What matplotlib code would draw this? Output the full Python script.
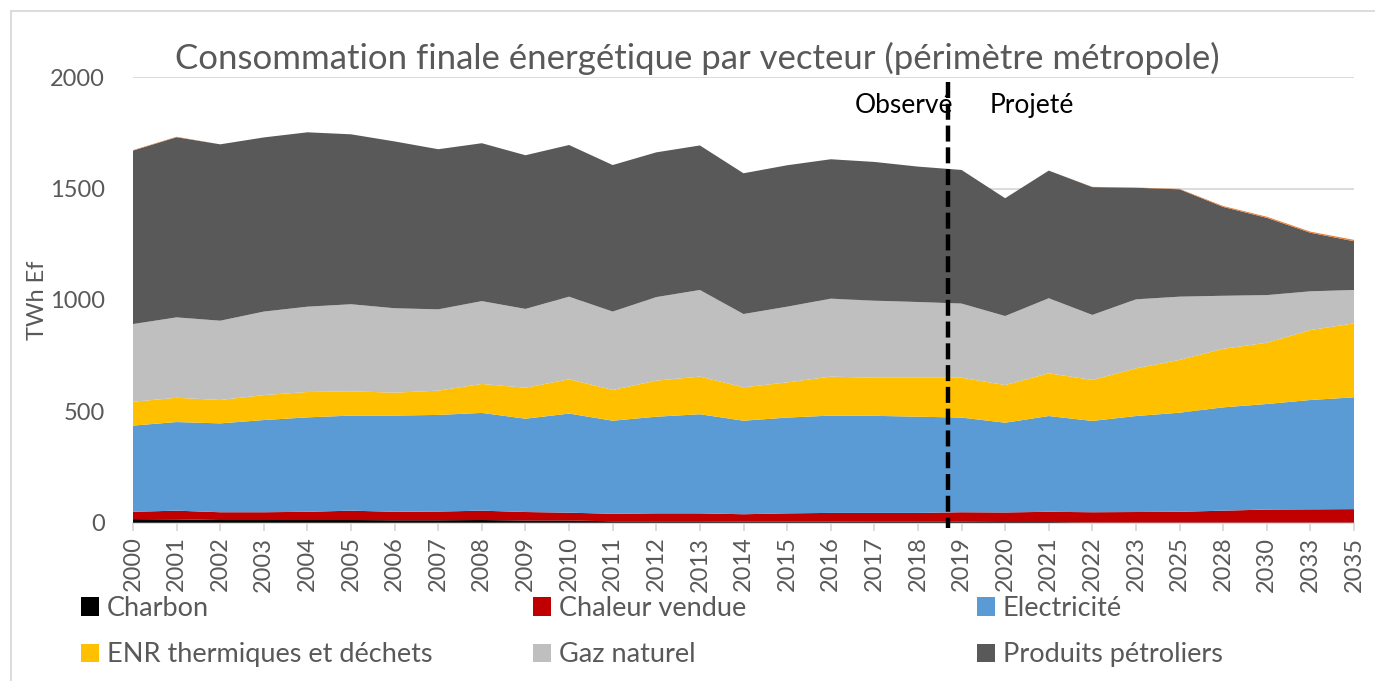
import matplotlib
matplotlib.use("Agg")
import matplotlib.pyplot as plt
from matplotlib.lines import Line2D
import numpy as np

plt.rcParams['font.family'] = ['Lato', 'DejaVu Sans']

years = ["2000", "2001", "2002", "2003", "2004", "2005", "2006", "2007", "2008", "2009",
         "2010", "2011", "2012", "2013", "2014", "2015", "2016", "2017", "2018", "2019",
         "2020", "2021", "2022", "2023", "2025", "2028", "2030", "2033", "2035"]

charbon = [16, 15, 12, 12, 12, 12, 11, 11, 12, 10, 10, 6, 6, 6, 5, 5, 5, 4, 4, 4,
           3, 3, 1, 1, 1, 1, 1, 1, 1]
chaleur = [33, 39, 35, 35, 37, 42, 38, 39, 42, 38, 35, 34, 36, 36, 33, 37, 39, 40, 40, 43,
           43, 46, 46, 47, 48, 53, 58, 59, 60]
electricite = [387, 398, 399, 414, 424, 427, 432, 434, 439, 419, 445, 418, 434, 445, 420, 430,
               437, 436, 432, 425, 403, 430, 410, 431, 445, 464, 474, 491, 502]
enr = [107, 109, 105, 112, 114, 109, 103, 109, 130, 139, 154, 138, 162, 169, 150, 158,
       175, 171, 175, 179, 169, 192, 184, 214, 237, 263, 275, 314, 332]
gaz = [349, 361, 356, 375, 383, 391, 379, 365, 372, 354, 371, 352, 375, 389, 329, 340,
       350, 346, 340, 333, 310, 337, 292, 310, 284, 238, 214, 174, 150]
petrole = [779, 809, 792, 782, 783, 763, 749, 719, 709, 690, 681, 658, 650, 649, 632, 635,
           626, 623, 608, 600, 529, 573, 574, 501, 482, 399, 347, 263, 219]
autres = [2, 2, 0, 0, 0, 0, 0, 0, 0, 0, 0, 0, 0, 0, 0, 0, 0, 0, 0, 0,
          0, 0, 1, 1, 2, 4, 5, 5, 6]

labels = ["Charbon", "Chaleur vendue", "Electricité", "ENR thermiques et déchets",
          "Gaz naturel", "Produits pétroliers"]
colors = ["#000000", "#C00000", "#5B9BD5", "#FFC000", "#BFBFBF", "#595959"]
autres_color = "#ED7D31"

title = "Consommation finale énergétique par vecteur (périmètre métropole)"
ylabel = "TWh Ef"
yticks = [0, 500, 1000, 1500, 2000]
separation = 18.7  # position of the observed / projected boundary on the category axis

W, H = 1375, 681
fig = plt.figure(figsize=(W / 100, H / 100), dpi=100)
ax = fig.add_axes([133 / W, 1 - 522.7 / H, (1354 - 133) / W, (522.7 - 77.3) / H])

x = np.arange(len(years))
polys = ax.stackplot(x, charbon, chaleur, electricite, enr, gaz, petrole, autres,
                     colors=colors + [autres_color], labels=labels + ["_autres"],
                     linewidth=0, zorder=2)

ax.set_xlim(0, len(years) - 1)
ax.set_ylim(0, 2000)
ax.set_yticks(yticks)
ax.set_yticklabels([str(v) for v in yticks])
ax.set_xticks(x)
ax.set_xticklabels(years, rotation=90)
ax.grid(axis='y', color='#D9D9D9', linewidth=1.3, zorder=0)
ax.set_axisbelow(True)
for s in ['top', 'right', 'left']:
    ax.spines[s].set_visible(False)
ax.spines['bottom'].set_color('#D9D9D9')
ax.spines['bottom'].set_linewidth(1.3)
ax.spines['bottom'].set_zorder(1)
ax.tick_params(axis='x', direction='out', length=6, width=1.3, color='#D9D9D9',
               labelsize=17, labelcolor='#595959', pad=4)
ax.tick_params(axis='y', length=0, labelsize=17, labelcolor='#595959', pad=20)
ax.set_ylabel(ylabel, fontsize=17, color='#595959', labelpad=8)
ax.yaxis.set_label_coords(-0.07, 0.5)

# observed / projected separator
ax.plot([separation, separation], [1980, -25], color='black', linewidth=3.2,
        dashes=(3.6, 1.3), clip_on=False, zorder=6)
ax.text(855 / W, 1 - 113 / H, "Observé", transform=fig.transFigure, fontsize=19,
        color='black', va='baseline', ha='left', zorder=5)
ax.text(990 / W, 1 - 113 / H, "Projeté", transform=fig.transFigure, fontsize=19,
        color='black', va='baseline', ha='left', zorder=5)

fig.text(697 / W, 1 - 69 / H, title, fontsize=25, color='#595959',
         ha='center', va='baseline')

# legend, three columns
col_x = [81 / W, 533 / W, 977 / W]
for c in range(3):
    hs = [polys[c], polys[c + 3]]
    ls = [labels[c], labels[c + 3]]
    fig.legend(hs, ls, loc='upper left', bbox_to_anchor=(col_x[c], 1 - 596 / H),
               frameon=False, fontsize=19.5, labelcolor='#595959', handlelength=0.65,
               handleheight=0.65, handletextpad=0.3, labelspacing=0.78, borderpad=0,
               borderaxespad=0)

# chart frame
fig.add_artist(Line2D([11 / W, 11 / W], [0, 1 - 11 / H], color='#D9D9D9', linewidth=1.3))
fig.add_artist(Line2D([11 / W, 1], [1 - 11 / H, 1 - 11 / H], color='#D9D9D9', linewidth=1.3))

fig.savefig("out.png", dpi=100)
